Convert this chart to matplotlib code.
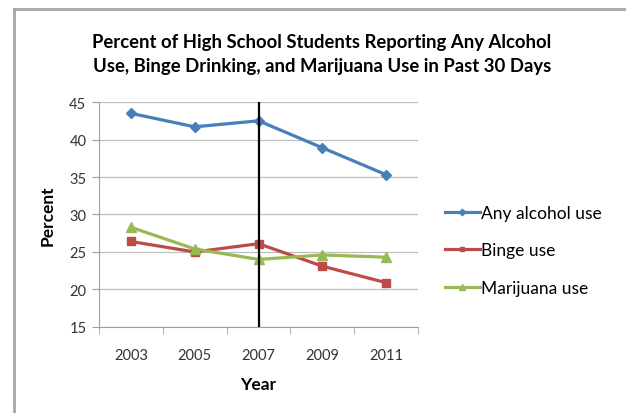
import matplotlib.pyplot as plt
from matplotlib.lines import Line2D
import numpy as np

plt.rcParams['font.family'] = ['Lato', 'DejaVu Sans']

years = ['2003', '2005', '2007', '2009', '2011']
alcohol = [43.5, 41.7, 42.5, 38.9, 35.3]
binge = [26.4, 25.0, 26.1, 23.1, 20.9]
marijuana = [28.3, 25.4, 24.0, 24.6, 24.3]
yticks = [15, 20, 25, 30, 35, 40, 45]

fig = plt.figure(figsize=(6.26, 4.14), dpi=100)
ax = fig.add_axes([0.158, 0.208, 0.51, 0.543])

x = np.arange(len(years))
ax.plot(x, alcohol, color='#4A7EBB', lw=2.3, marker='D', ms=5.5, label='Any alcohol use')
ax.plot(x, binge, color='#BE4B48', lw=2.3, marker='s', ms=5.5, label='Binge use')
ax.plot(x, marijuana, color='#98B954', lw=2.3, marker='^', ms=7, label='Marijuana use')

# vertical reference line at 2007
ax.axvline(2, color='black', lw=1.6, zorder=5)

ax.set_xlim(-0.5, 4.5)
ax.set_ylim(15, 45)
ax.set_yticks(yticks)
ax.set_xticks(x)
ax.set_xticklabels(years)
ax.set_xticks(np.arange(-0.5, 5, 1), minor=True)
ax.tick_params(axis='x', which='major', length=0, pad=15, labelsize=10.5, colors='#333333')
ax.tick_params(axis='x', which='minor', length=5, color='#A0A0A0', direction='out')
ax.tick_params(axis='y', length=5, color='#A0A0A0', labelsize=10.5, colors='#333333', pad=4)
ax.grid(axis='y', color='#BFBFBF', lw=0.9)
ax.set_axisbelow(True)
for s in ['top', 'right']:
    ax.spines[s].set_visible(False)
ax.spines['left'].set_color('#A0A0A0')
ax.spines['bottom'].set_color('#A0A0A0')

ax.set_xlabel('Year', fontsize=12.5, fontweight='bold', labelpad=10)
ax.set_ylabel('Percent', fontsize=12.5, fontweight='bold', labelpad=10)

fig.text(0.514, 0.868, 'Percent of High School Students Reporting Any Alcohol\nUse, Binge Drinking, and Marijuana Use in Past 30 Days',
         ha='center', va='center', fontsize=13.3, fontweight='bold', linespacing=1.5)

ax.legend(loc='center left', bbox_to_anchor=(1.035, 0.34), frameon=False, fontsize=12.5,
          handlelength=2.0, handletextpad=0.05, labelspacing=1.25, markerscale=0.6)

# outer frame lines
fig.add_artist(Line2D([0.023, 0.023], [0, 0.977], color='#A6A6A6', lw=2))
fig.add_artist(Line2D([0.022, 1], [0.976, 0.976], color='#A6A6A6', lw=2))

fig.savefig('out.png', dpi=100)
